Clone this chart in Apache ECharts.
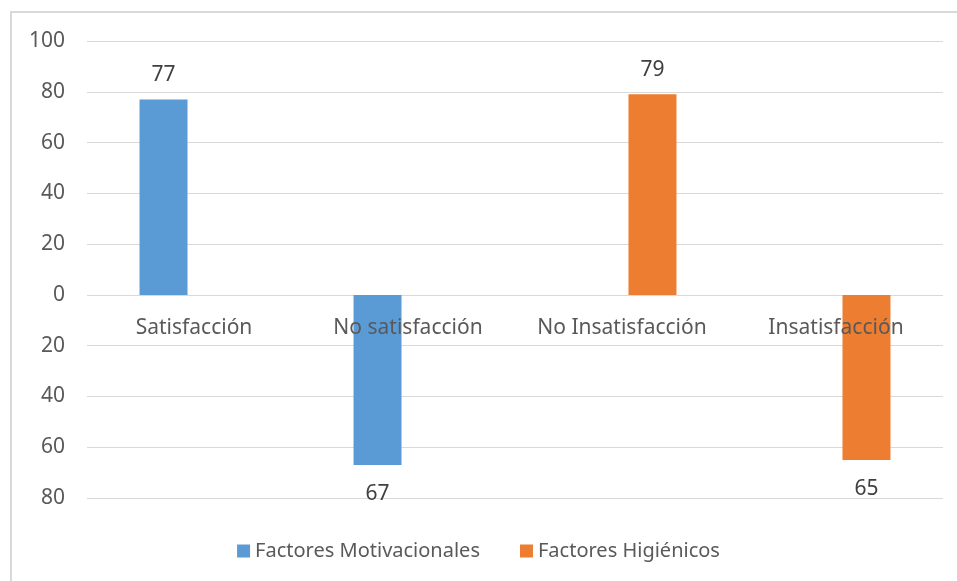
<!DOCTYPE html>
<html><head><meta charset="utf-8">
<script src="https://cdn.jsdelivr.net/npm/echarts@6/dist/echarts.min.js"></script>
<style>html,body{margin:0;padding:0;background:#fff}#c{width:957px;height:581px}</style>
</head><body><div id="c"></div>
<script>
const categories = ['Satisfacción', 'No satisfacción', 'No Insatisfacción', 'Insatisfacción'];
const motivacionales = [77, -67, null, null];
const higienicos = [null, null, 79, -65];
const seriesNames = ['Factores Motivacionales', 'Factores Higiénicos'];

const FONT = 'Noto Sans';
const TXT = '#595959';
function withLabels(arr) {
  return arr.map(v => v == null ? null : {
    value: v,
    label: { position: v >= 0 ? 'top' : 'bottom', distance: v >= 0 ? 14 : 19 }
  });
}
const GRID_TOP = 41, GRID_BOTTOM = 83, H = 581;
const innerH = H - GRID_TOP - GRID_BOTTOM;
const zeroOffset = -innerH * 80 / 180;

const chart = echarts.init(document.getElementById('c'));
chart.setOption({
  animation: false,
  graphic: [{ type: 'rect', shape: { x: 11, y: 12, width: 960, height: 600 },
    style: { fill: 'none', stroke: '#d9d9d9', lineWidth: 2 }, silent: true, z: -1 }],
  grid: { left: 87, right: 14, top: GRID_TOP, bottom: GRID_BOTTOM },
  legend: {
    top: 539, left: 'center', itemWidth: 13, itemHeight: 13, itemGap: 40, padding: 0,
    icon: 'rect',
    textStyle: { fontFamily: FONT, fontSize: 20, color: TXT, lineHeight: 24 }
  },
  xAxis: {
    type: 'category', data: categories,
    offset: zeroOffset, z: 10,
    axisLine: { onZero: false, show: false },
    axisTick: { show: false },
    axisLabel: { margin: 23, fontFamily: FONT, fontSize: 21, color: TXT, interval: 0 }
  },
  yAxis: {
    type: 'value', min: -80, max: 100, interval: 20,
    axisLine: { show: false }, axisTick: { show: false },
    axisLabel: { margin: 22, fontFamily: FONT, fontSize: 21, color: TXT,
      formatter: v => String(Math.abs(v)) },
    splitLine: { lineStyle: { color: '#d9d9d9', width: 1 } }
  },
  series: [
    { name: seriesNames[0], type: 'bar', data: withLabels(motivacionales),
      barWidth: 48, barGap: '27%', itemStyle: { color: '#5b9bd5' },
      label: { show: true, fontFamily: FONT, fontSize: 21, color: '#404040',
        formatter: p => String(Math.abs(p.value)) } },
    { name: seriesNames[1], type: 'bar', data: withLabels(higienicos),
      barWidth: 48, barGap: '27%', itemStyle: { color: '#ed7d31' },
      label: { show: true, fontFamily: FONT, fontSize: 21, color: '#404040',
        formatter: p => String(Math.abs(p.value)) } }
  ]
});
</script></body></html>
